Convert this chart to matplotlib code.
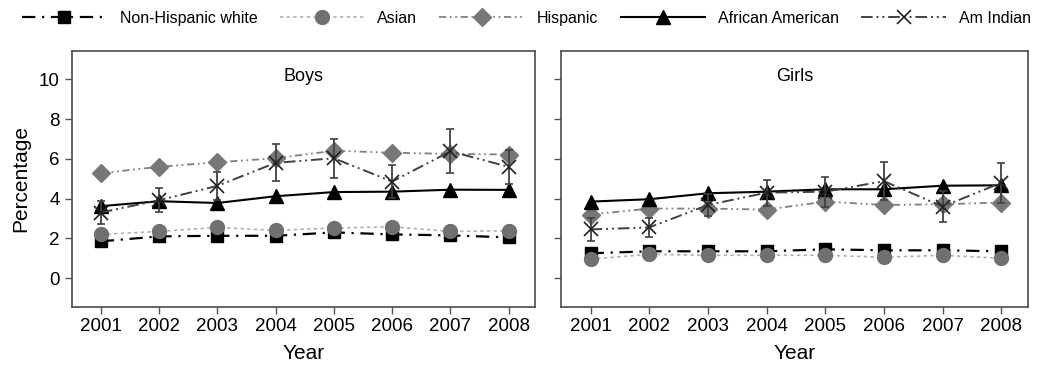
import matplotlib.pyplot as plt
from matplotlib.lines import Line2D

plt.rcParams["font.family"] = ["Liberation Sans", "DejaVu Sans"]

years = [2001, 2002, 2003, 2004, 2005, 2006, 2007, 2008]

# Boys
boys_white = [1.85, 2.1, 2.13, 2.13, 2.3, 2.2, 2.15, 2.05]
boys_asian = [2.2, 2.35, 2.55, 2.4, 2.52, 2.58, 2.35, 2.38]
boys_hispanic = [5.28, 5.6, 5.83, 6.03, 6.41, 6.31, 6.25, 6.22]
boys_african = [3.62, 3.87, 3.78, 4.12, 4.33, 4.35, 4.45, 4.44]
boys_amindian = [3.3, 3.92, 4.64, 5.8, 6.03, 4.86, 6.38, 5.6]
boys_amindian_err = [0.6, 0.6, 0.7, 0.93, 0.97, 0.85, 1.1, 0.85]

# Girls
girls_white = [1.25, 1.35, 1.35, 1.35, 1.45, 1.4, 1.4, 1.35]
girls_asian = [0.95, 1.2, 1.15, 1.15, 1.15, 1.05, 1.15, 1.0]
girls_hispanic = [3.2, 3.5, 3.5, 3.45, 3.85, 3.68, 3.72, 3.8]
girls_african = [3.85, 3.97, 4.27, 4.35, 4.47, 4.47, 4.65, 4.67]
girls_amindian = [2.45, 2.55, 3.68, 4.3, 4.35, 4.88, 3.6, 4.8]
girls_amindian_err = [0.6, 0.5, 0.55, 0.65, 0.75, 0.97, 0.8, 1.0]

labels = ["Non-Hispanic white", "Asian", "Hispanic", "African American", "Am Indian"]

styles = {
    "Non-Hispanic white": dict(color="black", ls=(0, (6, 3, 1, 3)), lw=1.6,
                               marker="s", ms=9, mfc="black", mec="black"),
    "Asian": dict(color="#b0b0b0", ls=(0, (2, 2)), lw=1.2,
                  marker="o", ms=10, mfc="#707070", mec="#707070"),
    "Hispanic": dict(color="#808080", ls=(0, (4, 2, 1, 2, 1, 2)), lw=1.3,
                     marker="D", ms=9, mfc="#777777", mec="#777777"),
    "African American": dict(color="black", ls="-", lw=1.5,
                             marker="^", ms=10, mfc="black", mec="black"),
    "Am Indian": dict(color="#404040", ls=(0, (6, 2, 1, 2, 1, 2)), lw=1.4,
                      marker="x", ms=10, mfc="none", mec="#202020", mew=1.2),
}

fig = plt.figure(figsize=(10.53, 3.68), dpi=100)
ax1 = fig.add_axes([0.068, 0.167, 0.44, 0.694])
ax2 = fig.add_axes([0.533, 0.167, 0.443, 0.694])


def draw_panel(ax, white, asian, hispanic, african, amindian, amindian_err, title):
    series = [white, asian, hispanic, african]
    for name, vals in zip(labels[:4], series):
        ax.plot(years, vals, **styles[name])
    ax.errorbar(years, amindian, yerr=amindian_err, ecolor="#404040",
                elinewidth=1.3, capsize=3, capthick=1.3, **styles["Am Indian"])
    ax.set_xlim(2000.5, 2008.45)
    ax.set_ylim(-1.43, 11.42)
    ax.set_xticks(years)
    ax.set_yticks([0, 2, 4, 6, 8, 10])
    ax.tick_params(axis="both", direction="out", length=5, width=1,
                   color="#555555", labelsize=13.5)
    for sp in ax.spines.values():
        sp.set_color("#4a4a4a")
        sp.set_linewidth(1.2)
    ax.text(0.5, 0.9, title, transform=ax.transAxes, ha="center",
            va="center", fontsize=13)
    ax.set_xlabel("Year", fontsize=15, labelpad=6)


draw_panel(ax1, boys_white, boys_asian, boys_hispanic, boys_african,
           boys_amindian, boys_amindian_err, "Boys")
draw_panel(ax2, girls_white, girls_asian, girls_hispanic, girls_african,
           girls_amindian, girls_amindian_err, "Girls")
ax1.set_ylabel("Percentage", fontsize=15, labelpad=6)
ax2.tick_params(axis="y", labelleft=False)

handles = [Line2D([], [], **styles[name]) for name in labels]
fig.legend(handles, labels, loc="upper center", bbox_to_anchor=(0.5, 1.01),
           ncol=5, frameon=False, fontsize=11.5, handlelength=5.3,
           columnspacing=1.4, handletextpad=0.8)

fig.savefig("out.png", dpi=100)
